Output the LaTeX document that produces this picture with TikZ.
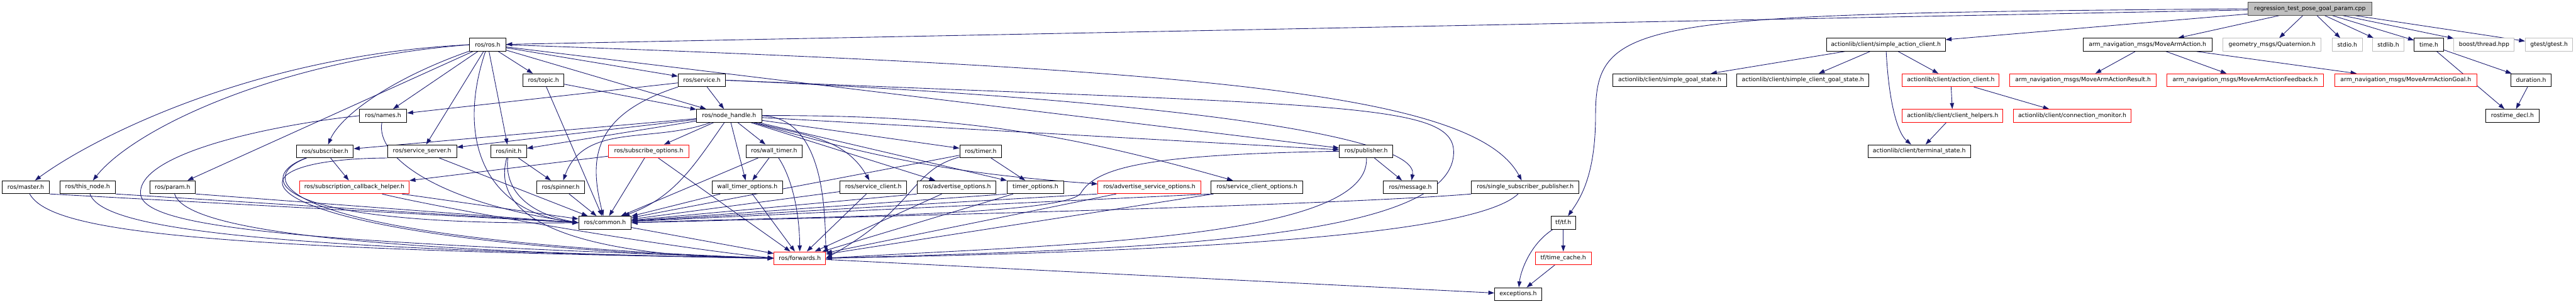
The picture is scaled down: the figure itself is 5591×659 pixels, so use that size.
\documentclass[tikz,border=0pt]{standalone}
\usepackage{fontspec}
\setmainfont{DejaVu Sans}
\usepackage{xcolor}
\usetikzlibrary{arrows.meta, backgrounds}
\definecolor{edgeblue}{HTML}{191970}
\definecolor{extgray}{HTML}{BFBFBF}

\begin{document}
\begin{tikzpicture}[x=1pt, y={(0pt,-1pt)}, >={Triangle[length=13pt, width=9pt]},
  every node/.style={font=\fontsize{12.7}{15}\selectfont},
  file/.style={draw=black, fill=white, line width=1.3pt, minimum height=28pt, inner sep=0pt},
  redfile/.style={file, draw=red},
  extfile/.style={file, draw=extgray},
  rootfile/.style={file, fill=extgray, draw=black!70},
  dep/.style={->, draw=edgeblue, line width=1.2pt}]
  \useasboundingbox (0,0) rectangle (5591,659);

  \node[rootfile, minimum width=269pt] (root) at (5013.5,19) {regression\_test\_pose\_goal\_param.cpp};

  \node[file, minimum width=79pt] (ros) at (1058.5,97) {ros/ros.h};
  \node[file, minimum width=258pt] (sac) at (4093,97) {actionlib/client/simple\_action\_client.h};
  \node[file, minimum width=280pt] (maa) at (4661,97) {arm\_navigation\_msgs/MoveArmAction.h};
  \node[extfile, minimum width=213pt] (quat) at (4931.5,97) {geometry\_msgs/Quaternion.h};
  \node[extfile, minimum width=65pt] (stdio) at (5094.5,97) {stdio.h};
  \node[extfile, minimum width=67pt] (stdlib) at (5183.5,97) {stdlib.h};
  \node[file, minimum width=63pt] (time) at (5271.5,97) {time.h};
  \node[extfile, minimum width=131pt] (boost) at (5391.5,97) {boost/thread.hpp};
  \node[extfile, minimum width=103pt] (gtest) at (5532.5,97) {gtest/gtest.h};

  \node[file, minimum width=89pt] (topic) at (1179.5,174) {ros/topic.h};
  \node[file, minimum width=103pt] (service) at (1523.5,174) {ros/service.h};
  \node[file, minimum width=246pt] (sgs) at (3624,174) {actionlib/client/simple\_goal\_state.h};
  \node[file, minimum width=286pt] (scgs) at (3913,174) {actionlib/client/simple\_client\_goal\_state.h};
  \node[redfile, minimum width=210pt] (ac) at (4234,174) {actionlib/client/action\_client.h};
  \node[redfile, minimum width=318pt] (maar) at (4521,174) {arm\_navigation\_msgs/MoveArmActionResult.h};
  \node[redfile, minimum width=340pt] (maaf) at (4873,174) {arm\_navigation\_msgs/MoveArmActionFeedback.h};
  \node[redfile, minimum width=309pt] (maag) at (5221.5,174) {arm\_navigation\_msgs/MoveArmActionGoal.h};
  \node[file, minimum width=87pt] (duration) at (5493.5,174) {duration.h};

  \node[file, minimum width=103pt] (names) at (831.5,251) {ros/names.h};
  \node[file, minimum width=141pt] (nh) at (1582.5,251) {ros/node\_handle.h};
  \node[redfile, minimum width=218pt] (ch) at (4238,251) {actionlib/client/client\_helpers.h};
  \node[redfile, minimum width=255pt] (cm) at (4497.5,251) {actionlib/client/connection\_monitor.h};
  \node[file, minimum width=116pt] (rtd) at (5453,251) {rostime\_decl.h};

  \node[file, minimum width=123pt] (subscriber) at (705.5,328) {ros/subscriber.h};
  \node[file, minimum width=150pt] (sserver) at (916,328) {ros/service\_server.h};
  \node[file, minimum width=78pt] (init) at (1104,328) {ros/init.h};
  \node[redfile, minimum width=174pt] (subopt) at (1408,328) {ros/subscribe\_options.h};
  \node[file, minimum width=122pt] (wt) at (1680,328) {ros/wall\_timer.h};
  \node[file, minimum width=91pt] (timer) at (2128.5,328) {ros/timer.h};
  \node[file, minimum width=116pt] (pub) at (2965,328) {ros/publisher.h};
  \node[file, minimum width=223pt] (ts) at (4165.5,328) {actionlib/client/terminal\_state.h};

  \node[file, minimum width=102pt] (master) at (56,406) {ros/master.h};
  \node[file, minimum width=120pt] (thisnode) at (190,406) {ros/this\_node.h};
  \node[file, minimum width=99pt] (param) at (374.5,406) {ros/param.h};
  \node[redfile, minimum width=238pt] (sch) at (769,406) {ros/subscription\_callback\_helper.h};
  \node[file, minimum width=104pt] (spinner) at (1217,406) {ros/spinner.h};
  \node[file, minimum width=152pt] (wto) at (1622,406) {wall\_timer\_options.h};
  \node[file, minimum width=145pt] (sc) at (1895.5,406) {ros/service\_client.h};
  \node[file, minimum width=171pt] (ao) at (2076.5,406) {ros/advertise\_options.h};
  \node[file, minimum width=123pt] (to) at (2247.5,406) {timer\_options.h};
  \node[redfile, minimum width=223pt] (aso) at (2494.5,406) {ros/advertise\_service\_options.h};
  \node[file, minimum width=200pt] (sco) at (2728,406) {ros/service\_client\_options.h};
  \node[file, minimum width=118pt] (msg) at (3061,406) {ros/message.h};
  \node[file, minimum width=233pt] (ssp) at (3310.5,406) {ros/single\_subscriber\_publisher.h};

  \node[file, minimum width=114pt] (common) at (1313,483) {ros/common.h};
  \node[file, minimum width=54pt] (tf) at (3393,483) {tf/tf.h};

  \node[redfile, minimum width=112pt] (fwd) at (1736,560) {ros/forwards.h};
  \node[redfile, minimum width=122pt] (tc) at (3393,560) {tf/time\_cache.h};

  \node[file, minimum width=102pt] (exc) at (3295,638) {exceptions.h};

  \begin{pgfonlayer}{background}
  \draw[dep] (root) -- (ros);
  \draw[dep] (root) -- (sac);
  \draw[dep] (root) -- (maa);
  \draw[dep] (root) -- (quat);
  \draw[dep] (root) -- (stdio);
  \draw[dep] (root) -- (stdlib);
  \draw[dep] (root) -- (time);
  \draw[dep] (root) -- (boost);
  \draw[dep] (root) -- (gtest);
  \draw[dep] (root.west) .. controls (3550,30) and (3463,40) .. (3463,250) .. controls (3463,380) and (3430,430) .. (tf);

  \draw[dep] (ros.west) .. controls (550,120) and (200,300) .. (master);
  \draw[dep] (ros.west) .. controls (600,130) and (290,280) .. (thisnode);
  \draw[dep] (ros) -- (param);
  \draw[dep] (ros) .. controls (850,170) and (740,250) .. (subscriber);
  \draw[dep] (ros) -- (names);
  \draw[dep] (ros) -- (sserver);
  \draw[dep] (ros) .. controls (990,300) and (1050,460) .. (common.west);
  \draw[dep] (ros) -- (init);
  \draw[dep] (ros) -- (topic);
  \draw[dep] (ros) -- (service);
  \draw[dep] (ros) -- (nh);
  \draw[dep] (ros) -- (pub);
  \draw[dep] (ros.east) .. controls (2600,150) and (3200,200) .. (ssp);

  \draw[dep] (topic) -- (nh);
  \draw[dep] (topic) -- (common);
  \draw[dep] (service) -- (nh);
  \draw[dep] (service) -- (names);
  \draw[dep] (service.south west) .. controls (1280,250) and (1280,350) .. (common);
  \draw[dep] (service.east) .. controls (2600,220) and (3080,300) .. (msg);
  \draw[dep] (service.east) .. controls (2900,230) and (3155,220) .. (3155,330) .. controls (3155,520) and (2500,540) .. (fwd.east);
  \draw[dep] (names) .. controls (815,340) and (950,440) .. (common.west);
  \draw[dep] (names.west) .. controls (600,270) and (300,330) .. (305,420) .. controls (310,490) and (600,525) .. (fwd.west);

  \draw[dep] (nh) -- (subscriber);
  \draw[dep] (nh) -- (sserver);
  \draw[dep] (nh) -- (init);
  \draw[dep] (nh) -- (subopt);
  \draw[dep] (nh) -- (wt);
  \draw[dep] (nh) -- (wto);
  \draw[dep] (nh) to[out=-15, in=120] (sc);
  \draw[dep] (nh) -- (ao);
  \draw[dep] (nh) -- (timer);
  \draw[dep] (nh) -- (to);
  \draw[dep] (nh) to[bend right=6] (aso);
  \draw[dep] (nh) to[bend left=8] (sco);
  \draw[dep] (nh) -- (pub);
  \draw[dep] (nh) to[out=200, in=70] (spinner);
  \draw[dep] (nh) to[out=235, in=20] (common);
  \draw[dep] (nh.east) .. controls (1790,255) and (1790,460) .. (fwd.north east);

  \draw[dep] (subscriber) -- (sch);
  \draw[dep] (subscriber) .. controls (560,380) and (560,490) .. (common.west);
  \draw[dep] (subscriber) .. controls (550,385) and (570,520) .. (fwd.west);
  \draw[dep] (sserver) -- (common);
  \draw[dep] (sserver.south west) .. controls (420,345) and (520,530) .. (fwd.west);
  \draw[dep] (init) -- (spinner);
  \draw[dep] (init) .. controls (1095,400) and (1130,460) .. (common.west);
  \draw[dep] (init) .. controls (1050,520) and (1400,560) .. (fwd.west);
  \draw[dep] (subopt) -- (sch);
  \draw[dep] (subopt) -- (common);
  \draw[dep] (subopt) -- (fwd);
  \draw[dep] (wt) -- (wto);
  \draw[dep] (wt) -- (common);
  \draw[dep] (wt) .. controls (1715,380) and (1735,450) .. (fwd);
  \draw[dep] (timer) -- (to);
  \draw[dep] (timer) -- (common);
  \draw[dep] (timer) .. controls (1975,370) and (1990,450) .. (fwd.east);
  \draw[dep] (pub) -- (msg);
  \draw[dep] (pub.west) .. controls (2500,335) and (2380,360) .. (2345,420) .. controls (2300,470) and (1700,470) .. (common.east);
  \draw[dep] (pub) .. controls (2975,520) and (2300,530) .. (fwd.east);

  \draw[dep] (master.south east) -- (common.west);
  \draw[dep] (master) .. controls (110,500) and (400,540) .. (fwd.west);
  \draw[dep] (thisnode.south east) -- (common.west);
  \draw[dep] (thisnode) .. controls (220,490) and (500,540) .. (fwd.west);
  \draw[dep] (param.south east) -- (common.west);
  \draw[dep] (param) .. controls (400,490) and (700,545) .. (fwd.west);
  \draw[dep] (sch) -- (common);
  \draw[dep] (sch) .. controls (950,450) and (1400,530) .. (fwd.west);
  \draw[dep] (spinner) -- (common);
  \draw[dep] (wto) -- (common);
  \draw[dep] (wto) -- (fwd);
  \draw[dep] (sc) -- (common);
  \draw[dep] (sc) -- (fwd);
  \draw[dep] (ao.south west) -- (common);
  \draw[dep] (ao) -- (fwd);
  \draw[dep] (to.south west) -- (common);
  \draw[dep] (to) -- (fwd);
  \draw[dep] (aso.south west) -- (common);
  \draw[dep] (aso) -- (fwd);
  \draw[dep] (sco.south west) -- (common);
  \draw[dep] (sco) -- (fwd);
  \draw[dep] (ssp.south west) .. controls (2900,445) and (1900,470) .. (common.east);
  \draw[dep] (ssp) .. controls (3200,510) and (2600,545) .. (fwd.east);
  \draw[dep] (common) -- (fwd);
  \draw[dep] (fwd) -- (exc);
  \draw[dep] (tf) -- (tc);
  \draw[dep] (tf) .. controls (3320,530) and (3300,590) .. (exc);
  \draw[dep] (tc) -- (exc);

  \draw[dep] (sac) -- (sgs);
  \draw[dep] (sac) -- (scgs);
  \draw[dep] (sac) -- (ac);
  \draw[dep] (sac) .. controls (4100,230) and (4120,290) .. (ts);
  \draw[dep] (ac) -- (ch);
  \draw[dep] (ac) -- (cm);
  \draw[dep] (ch) -- (ts);
  \draw[dep] (maa) -- (maar);
  \draw[dep] (maa) -- (maaf);
  \draw[dep] (maa) -- (maag);
  \draw[dep] (time) -- (duration);
  \draw[dep] (time) -- (rtd);
  \draw[dep] (duration) -- (rtd);
  \end{pgfonlayer}
\end{tikzpicture}
\end{document}
